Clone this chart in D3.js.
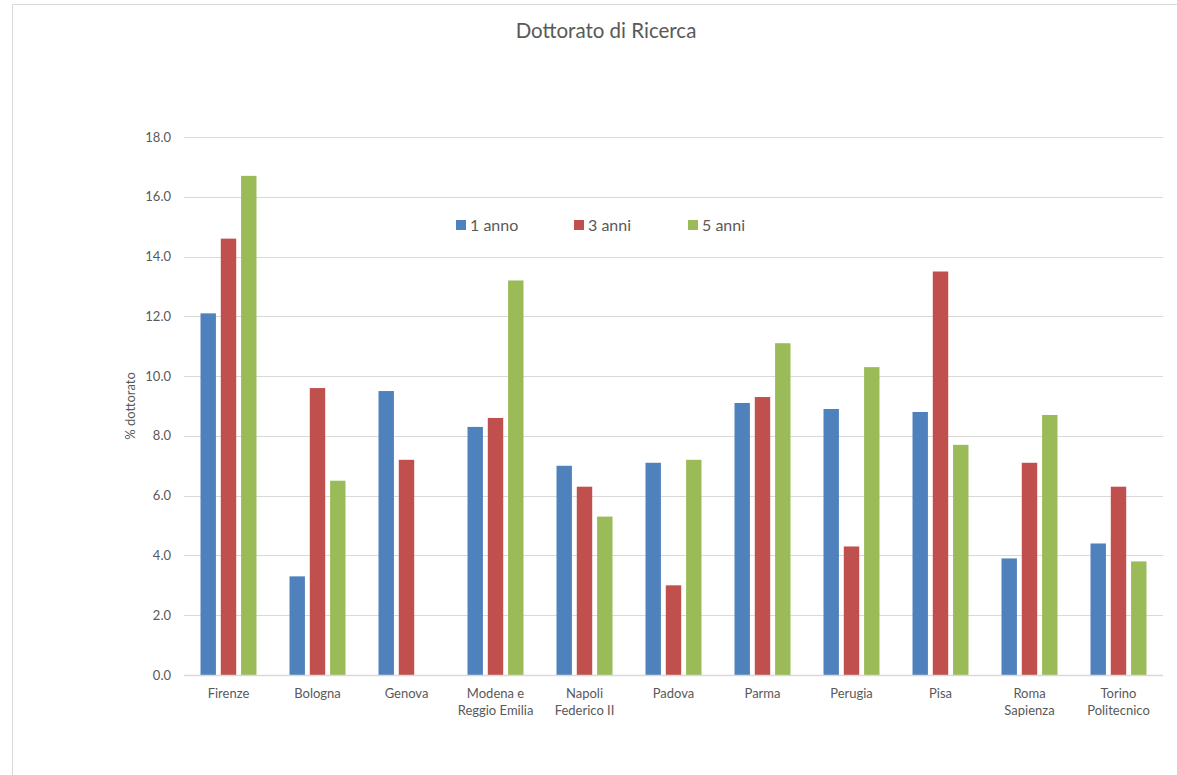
<!DOCTYPE html>
<html><head><meta charset="utf-8">
<script src="https://cdn.jsdelivr.net/npm/d3@7/dist/d3.min.js"></script>
<style>body{margin:0;background:#fff;}svg{display:block;font-family:Lato,"Open Sans",sans-serif;}</style>
</head><body>
<svg id="c" width="1177" height="775"></svg>
<script>
const categories = [["Firenze"],["Bologna"],["Genova"],["Modena e","Reggio Emilia"],["Napoli","Federico II"],["Padova"],["Parma"],["Perugia"],["Pisa"],["Roma","Sapienza"],["Torino","Politecnico"]];
const seriesNames = ["1 anno","3 anni","5 anni"];
const anno1 = [12.1, 3.3, 9.5, 8.3, 7.0, 7.1, 9.1, 8.9, 8.8, 3.9, 4.4];
const anni3 = [14.6, 9.6, 7.2, 8.6, 6.3, 3.0, 9.3, 4.3, 13.5, 7.1, 6.3];
const anni5 = [16.7, 6.5, null, 13.2, 5.3, 7.2, 11.1, 10.3, 7.7, 8.7, 3.8];
const yTicks = [0,2,4,6,8,10,12,14,16,18];

(function(){
const colors = ["#4F81BD","#C0504D","#9BBB59"];
const series = [anno1, anni3, anni5];

const svg = d3.select("#c");
svg.append("path").attr("d","M12.5,775 L12.5,4.5 L1177,4.5").attr("fill","none").attr("stroke","#d9d9d9").attr("stroke-width",1);

const pL = 184, pR = 1163, pT = 137, pB = 675;
const x0 = d3.scaleBand().domain(d3.range(categories.length)).range([pL,pR]).padding(0);
const x1 = d3.scaleBand().domain(d3.range(3)).range([0,56]).paddingInner(0.24).paddingOuter(0);
const y = d3.scaleLinear().domain([0,18]).range([pB,pT]);

svg.append("g").selectAll("line").data(yTicks.filter(d=>d>0)).join("line")
  .attr("x1",pL).attr("x2",pR).attr("y1",d=>Math.round(y(d))+0.5).attr("y2",d=>Math.round(y(d))+0.5)
  .attr("stroke","#d9d9d9").attr("stroke-width",1);

svg.append("g").selectAll("text").data(yTicks).join("text")
  .attr("x",171).attr("y",d=>y(d)).attr("dy","0.35em").attr("text-anchor","end")
  .attr("fill","#595959").attr("font-size",13).text(d=>d.toFixed(1));

const g = svg.append("g");
series.forEach((vals,si)=>{
  g.append("g").selectAll("rect").data(vals.map((v,i)=>({v,i})).filter(d=>d.v!=null)).join("rect")
    .attr("x",d=>x0(d.i)+x0.bandwidth()/2-28+x1(si))
    .attr("width",x1.bandwidth())
    .attr("y",d=>y(d.v)).attr("height",d=>y(0)-y(d.v))
    .attr("fill",colors[si]);
});

svg.append("line").attr("x1",pL).attr("x2",pR).attr("y1",pB+0.5).attr("y2",pB+0.5)
  .attr("stroke","#d9d9d9").attr("stroke-width",1.5);

const xl = svg.append("g").selectAll("text").data(categories).join("text")
  .attr("text-anchor","middle").attr("fill","#595959").attr("font-size",13)
  .attr("transform",(d,i)=>`translate(${x0(i)+x0.bandwidth()/2},698)`);
xl.selectAll("tspan").data(d=>d).join("tspan").attr("x",0).attr("dy",(d,i)=>i===0?0:17).text(d=>d);

svg.append("text").attr("transform",`translate(135,${(pT+pB)/2}) rotate(-90)`)
  .attr("text-anchor","middle").attr("fill","#595959").attr("font-size",13).text("% dottorato");

svg.append("text").attr("x",606).attr("y",38).attr("text-anchor","middle").attr("fill","#595959")
  .attr("font-size",20.5).text("Dottorato di Ricerca");

const legX = [456,574,688];
const lg = svg.append("g").selectAll("g").data(seriesNames).join("g")
  .attr("transform",(d,i)=>`translate(${legX[i]},225)`);
lg.append("rect").attr("x",0).attr("y",-5).attr("width",10).attr("height",10).attr("fill",(d,i)=>colors[i]);
lg.append("text").attr("x",14).attr("y",0).attr("dy","0.35em").attr("fill","#595959").attr("font-size",16).text(d=>d);
})();
</script>
</body></html>
